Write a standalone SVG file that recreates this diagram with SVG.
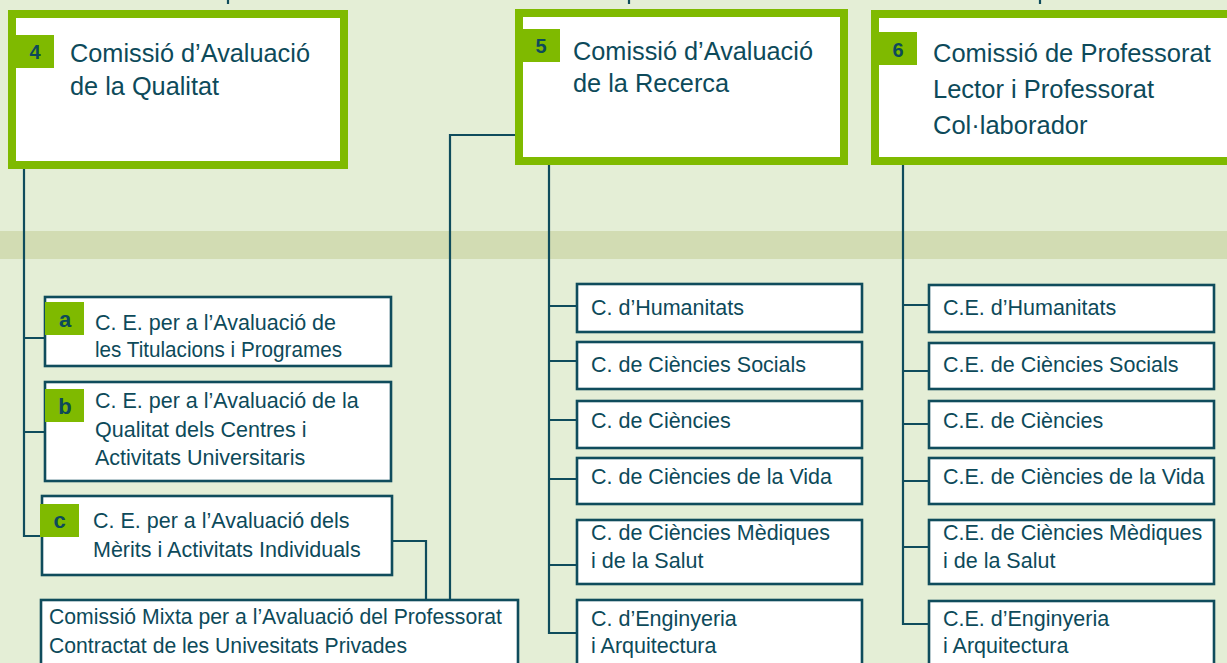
<svg xmlns="http://www.w3.org/2000/svg" width="1227" height="663" viewBox="0 0 1227 663">
<style>
.t{font-family:"Liberation Sans",Arial,Helvetica,sans-serif;fill:#0d4a5a}
.big{font-size:25.3px}
.big6{font-size:25.5px}
.mid{font-size:21.5px}
.mix{font-size:21.2px}
.badge{font-size:20px;font-weight:bold;text-anchor:middle}
.lbadge{font-size:22px;font-weight:bold;text-anchor:middle}
.gbox{fill:#fff;stroke:#7fba00;stroke-width:8}
.dbox{fill:#fff;stroke:#0f4c5c;stroke-width:2.6}
.bg{fill:#7fba00}
.c{fill:none;stroke:#0f4c5c;stroke-width:2.2}
</style>
<rect x="0" y="0" width="1227" height="663" fill="#e4eed6"/>
<rect x="0" y="231" width="1227" height="28" fill="#d2dcb3"/>

<g id="connectors">
<path class="c" d="M228 0V4M629 0V4M1040 0V4"/>
<path class="c" d="M24 165V536H41M24 338H45M24 432H45"/>
<path class="c" d="M391 541H426V600"/>
<path class="c" d="M515 135H450V600"/>
<path class="c" d="M549 160V633H577M549 306H577M549 361H577M549 420H577M549 479H577M549 565H577"/>
<path class="c" d="M903 160V624H929M903 305H929M903 371H929M903 424H929M903 481H929M903 547H929"/>
</g>

<g id="n4">
<rect class="gbox" x="12" y="14" width="332" height="151"/>
<rect class="bg" x="16" y="35" width="38" height="33"/>
<text class="t badge" x="35" y="59">4</text>
<text class="t big" x="70" y="62">Comissió d’Avaluació</text>
<text class="t big" x="70" y="95">de la Qualitat</text>
</g>
<g id="n5">
<rect class="gbox" x="519" y="13" width="325" height="148"/>
<rect class="bg" x="523" y="29" width="37" height="33"/>
<text class="t badge" x="541" y="53">5</text>
<text class="t big" x="573" y="60">Comissió d’Avaluació</text>
<text class="t big" x="573" y="92">de la Recerca</text>
</g>
<g id="n6">
<rect class="gbox" x="875" y="14" width="370" height="147"/>
<rect class="bg" x="879" y="32" width="38" height="33"/>
<text class="t badge" x="898" y="57">6</text>
<text class="t big6" x="933" y="62">Comissió de Professorat</text>
<text class="t big6" x="933" y="98">Lector i Professorat</text>
<text class="t big6" x="933" y="134">Col·laborador</text>
</g>

<g id="na">
<rect class="dbox" x="45" y="297" width="346" height="69"/>
<rect class="bg" x="45" y="302" width="39" height="33"/>
<text class="t lbadge" x="65" y="327">a</text>
<text class="t mid" x="95" y="330">C. E. per a l’Avaluació de</text>
<text class="t mid" x="95" y="357" textLength="247" lengthAdjust="spacingAndGlyphs">les Titulacions i Programes</text>
</g>
<g id="nb">
<rect class="dbox" x="45" y="382" width="346" height="99"/>
<rect class="bg" x="45" y="389" width="39" height="33"/>
<text class="t lbadge" x="65" y="414">b</text>
<text class="t mid" x="95" y="408">C. E. per a l’Avaluació de la</text>
<text class="t mid" x="95" y="437">Qualitat dels Centres i</text>
<text class="t mid" x="95" y="465">Activitats Universitaris</text>
</g>
<g id="nc">
<rect class="dbox" x="42" y="496" width="350" height="79"/>
<rect class="bg" x="40" y="504" width="39" height="33"/>
<text class="t lbadge" x="59.5" y="528">c</text>
<text class="t mid" x="93" y="528">C. E. per a l’Avaluació dels</text>
<text class="t mid" x="93" y="557">Mèrits i Activitats Individuals</text>
</g>
<g id="nmixta">
<rect class="dbox" x="41" y="600" width="477" height="80"/>
<text class="t mix" x="49" y="624">Comissió Mixta per a l’Avaluació del Professorat</text>
<text class="t mix" x="49" y="653">Contractat de les Univesitats Privades</text>
</g>

<g id="m1"><rect class="dbox" x="577" y="284" width="285" height="48"/><text class="t mid" x="591" y="315">C. d’Humanitats</text></g>
<g id="m2"><rect class="dbox" x="577" y="342" width="285" height="47"/><text class="t mid" x="591" y="372">C. de Ciències Socials</text></g>
<g id="m3"><rect class="dbox" x="577" y="401" width="285" height="47"/><text class="t mid" x="591" y="428">C. de Ciències</text></g>
<g id="m4"><rect class="dbox" x="577" y="458" width="285" height="46"/><text class="t mid" x="591" y="484">C. de Ciències de la Vida</text></g>
<g id="m5"><rect class="dbox" x="577" y="520" width="285" height="64"/><text class="t mid" x="591" y="540">C. de Ciències Mèdiques</text><text class="t mid" x="591" y="568">i de la Salut</text></g>
<g id="m6"><rect class="dbox" x="577" y="600" width="285" height="80"/><text class="t mid" x="591" y="626">C. d’Enginyeria</text><text class="t mid" x="591" y="653">i Arquitectura</text></g>

<g id="r1"><rect class="dbox" x="929" y="285" width="285" height="47"/><text class="t mid" x="943" y="315">C.E. d’Humanitats</text></g>
<g id="r2"><rect class="dbox" x="929" y="343" width="285" height="46"/><text class="t mid" x="943" y="372">C.E. de Ciències Socials</text></g>
<g id="r3"><rect class="dbox" x="929" y="401" width="285" height="47"/><text class="t mid" x="943" y="428">C.E. de Ciències</text></g>
<g id="r4"><rect class="dbox" x="929" y="458" width="285" height="46"/><text class="t mid" x="943" y="484">C.E. de Ciències de la Vida</text></g>
<g id="r5"><rect class="dbox" x="929" y="520" width="285" height="64"/><text class="t mid" x="943" y="540">C.E. de Ciències Mèdiques</text><text class="t mid" x="943" y="568">i de la Salut</text></g>
<g id="r6"><rect class="dbox" x="929" y="601" width="285" height="80"/><text class="t mid" x="943" y="626">C.E. d’Enginyeria</text><text class="t mid" x="943" y="653">i Arquitectura</text></g>
</svg>
